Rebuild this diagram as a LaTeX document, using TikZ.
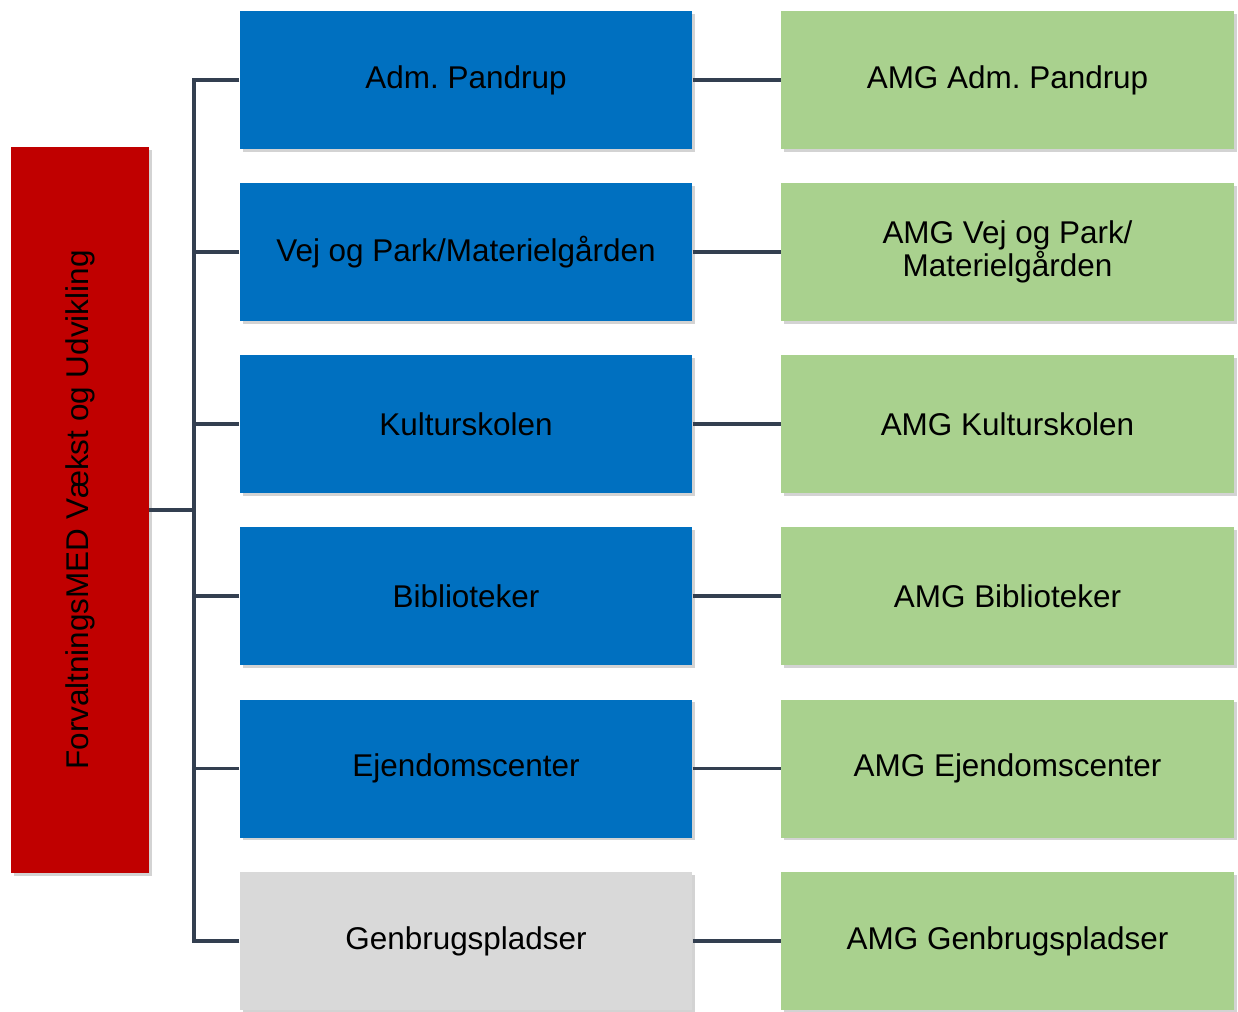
\documentclass[tikz,border=0pt]{standalone}
\usepackage{fontspec}
\setmainfont{Liberation Sans}
\usetikzlibrary{shadows,positioning}
\frenchspacing

\definecolor{medred}{HTML}{C00000}
\definecolor{unitblue}{HTML}{0070C0}
\definecolor{unitgray}{HTML}{D9D9D9}
\definecolor{amggreen}{HTML}{A9D18E}
\definecolor{linkgray}{HTML}{333F50}

\begin{document}
\begin{tikzpicture}[
    box/.style={draw=none, minimum width=9.05cm, minimum height=2.76cm, align=center,
        inner sep=2pt, font=\fontsize{17.9}{17.8}\selectfont,
        drop shadow={shadow xshift=1.6pt, shadow yshift=-1.6pt, opacity=0.35}},
    link/.style={draw=linkgray, line width=1.8pt}
]
    \useasboundingbox (0,0) rectangle (24.76,-20.22);

    % Main committee
    \node[box, fill=medred, minimum width=2.76cm, minimum height=14.52cm] (main) at (1.6,-10.2)
        {\rotatebox{90}{ForvaltningsMED Vækst og Udvikling}};
    \coordinate (bus) at (3.88,-10.2);
    \draw[link] (main.east) -- (bus);

    % Units and their AMG groups
    \foreach \i/\y/\col/\unit/\amg in {
        1/-1.6/unitblue/{Adm. Pandrup}/{AMG Adm. Pandrup},
        2/-5.04/unitblue/{Vej og Park/Materielgården}/{AMG Vej og Park/\\Materielgården},
        3/-8.48/unitblue/{Kulturskolen}/{AMG Kulturskolen},
        4/-11.92/unitblue/{Biblioteker}/{AMG Biblioteker},
        5/-15.37/unitblue/{Ejendomscenter}/{AMG Ejendomscenter},
        6/-18.82/unitgray/{Genbrugspladser}/{AMG Genbrugspladser}} {
        \node[box, fill=\col] (unit\i) at (9.32,\y) {\unit};
        \node[box, fill=amggreen] (amg\i) at (20.15,\y) {\amg};
        \draw[link] (unit\i.west) -| (bus);
        \draw[link] (unit\i.east) -- (amg\i.west);
    }
\end{tikzpicture}
\end{document}
